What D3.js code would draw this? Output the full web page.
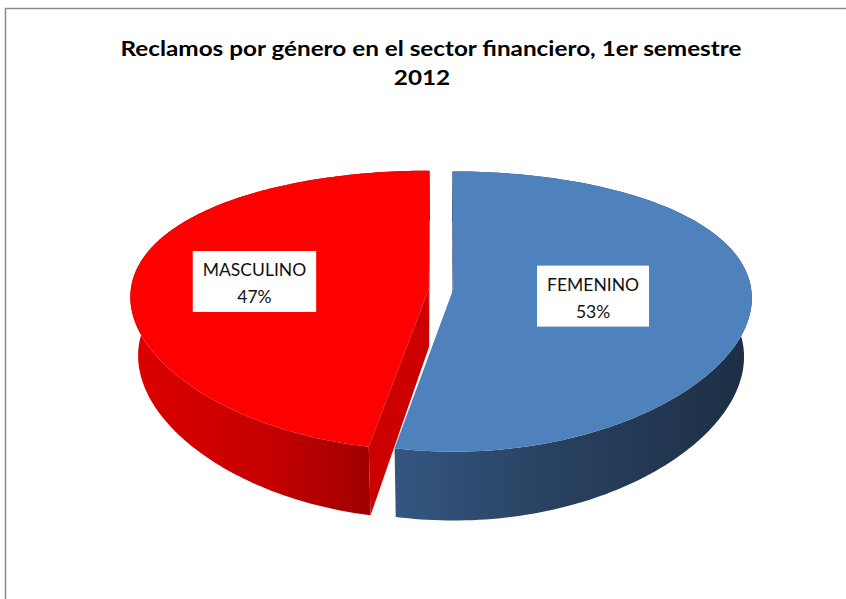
<!DOCTYPE html>
<html>
<head>
<meta charset="utf-8">
<script src="https://cdn.jsdelivr.net/npm/d3@7/dist/d3.min.js"></script>
<style>
  html, body { margin: 0; padding: 0; background: #fff; }
  svg { display: block; }
</style>
</head>
<body>
<div id="chart"></div>
<script>
const WIDTH = 846;
const HEIGHT = 599;

// data
const categories = ["FEMENINO", "MASCULINO"];
const values = [53, 47];
const pctLabels = ["53%", "47%"];
const titleLines = ["Reclamos por género en el sector financiero, 1er semestre", "2012"];

const TOP_COLORS = ["#4f81bd", "#ff0000"];
const CUT_COLORS = ["#1f3350", "#cc0000"];
const WALL_STOPS = [
  [["0%", "#33557e"], ["45%", "#28405f"], ["100%", "#1d2e45"]],
  [["0%", "#dc0000"], ["55%", "#c40000"], ["100%", "#9c0000"]]
];

// pseudo 3D projection constants
const CX = 441, CY = 289;
const RX = 298, RY = 136.5;
const K = 0.157;       // perspective in y (front bigger)
const KX = 0.06;       // perspective in x
const DEPTH = 58;      // thickness of the pie
const SHRINK = 0.025;  // bottom rim slightly smaller
const EXPLODE = 0.041;
const LABEL_R = [0.47, 0.59];
const TITLE_WIDTH = 621;

function proj(u, v, w) {
  const s = 1 / (1 - K * v);
  const sx = (1 - SHRINK * w) / (1 - KX * v);
  return [CX + RX * u * sx, CY + RY * v * s + DEPTH * w * s];
}

document.addEventListener('DOMContentLoaded', function() {
  const svg = d3.select("#chart")
    .append("svg")
    .attr("width", WIDTH)
    .attr("height", HEIGHT);

  // chart area border
  svg.append("rect")
    .attr("x", 5.5).attr("y", 8.5)
    .attr("width", WIDTH + 20).attr("height", HEIGHT + 20)
    .attr("fill", "none")
    .attr("stroke", "#8a8a8a")
    .attr("stroke-width", 1.5);

  const defs = svg.append("defs");
  WALL_STOPS.forEach((stops, i) => {
    const g = defs.append("linearGradient")
      .attr("id", "wall" + i)
      .attr("gradientUnits", "userSpaceOnUse")
      .attr("x1", i === 0 ? 405 : 135).attr("x2", i === 0 ? 755 : 380)
      .attr("y1", 0).attr("y2", 0);
    stops.forEach(s => g.append("stop").attr("offset", s[0]).attr("stop-color", s[1]));
  });

  const pie = d3.pie().sort(null).value(d => d)(values);
  const line = d3.line();

  const slices = pie.map((p, i) => {
    const mid = (p.startAngle + p.endAngle) / 2;
    return {
      i: i,
      a0: p.startAngle,
      a1: p.endAngle,
      mid: mid,
      ou: EXPLODE * Math.sin(mid),
      ov: -EXPLODE * Math.cos(mid)
    };
  });

  function rim(s, a, w) {
    return proj(s.ou + Math.sin(a), s.ov - Math.cos(a), w);
  }
  function centre(s, w) {
    return proj(s.ou, s.ov, w);
  }
  function area(pts) {
    let a = 0;
    for (let j = 0; j < pts.length; j++) {
      const p = pts[j], q = pts[(j + 1) % pts.length];
      a += p[0] * q[1] - q[0] * p[1];
    }
    return a;
  }
  function arcPts(s, w, from, to) {
    const n = 160, pts = [];
    for (let j = 0; j <= n; j++) pts.push(rim(s, from + (to - from) * j / n, w));
    return pts;
  }

  const g = svg.append("g");

  // cut faces (only the ones turned to the viewer)
  slices.forEach(s => {
    const faces = [
      [centre(s, 0), rim(s, s.a0, 0), rim(s, s.a0, 1), centre(s, 1)],
      [centre(s, 0), centre(s, 1), rim(s, s.a1, 1), rim(s, s.a1, 0)]
    ];
    faces.forEach(f => {
      if (area(f) < 0) {
        g.append("path")
          .attr("d", line(f) + "Z")
          .attr("fill", CUT_COLORS[s.i]);
      }
    });
  });

  // outer walls
  slices.forEach(s => {
    const pts = arcPts(s, 0, s.a0, s.a1).concat(arcPts(s, 1, s.a1, s.a0));
    g.append("path")
      .attr("d", line(pts) + "Z")
      .attr("fill", "url(#wall" + s.i + ")");
  });

  // top faces
  slices.forEach(s => {
    const pts = [centre(s, 0)].concat(arcPts(s, 0, s.a0, s.a1));
    g.append("path")
      .attr("d", line(pts) + "Z")
      .attr("fill", TOP_COLORS[s.i]);
  });

  // data labels
  slices.forEach(s => {
    const r = LABEL_R[s.i];
    const c = proj(s.ou + r * Math.sin(s.mid), s.ov - r * Math.cos(s.mid), 0);
    const lg = svg.append("g").attr("transform", "translate(" + c[0] + "," + c[1] + ")");
    const box = lg.append("rect").attr("fill", "#fff");
    const t1 = lg.append("text")
      .attr("text-anchor", "middle")
      .attr("y", -5)
      .style("font-family", "Lato, 'Open Sans', sans-serif")
      .style("font-size", "17.5px")
      .style("fill", "#111")
      .text(categories[s.i]);
    const t2 = lg.append("text")
      .attr("text-anchor", "middle")
      .attr("y", 22)
      .style("font-family", "Lato, 'Open Sans', sans-serif")
      .style("font-size", "17.5px")
      .style("fill", "#111")
      .text(pctLabels[s.i]);
    const w = Math.max(t1.node().getComputedTextLength(), t2.node().getComputedTextLength());
    box.attr("x", -w / 2 - 10).attr("y", -30).attr("width", w + 20).attr("height", 61);
  });

  // title, stretched to the width it has in the picture
  const title = svg.append("g")
    .style("font-family", "Lato, 'Open Sans', sans-serif")
    .style("font-weight", "bold")
    .style("font-size", "21px")
    .style("fill", "#000");
  const l1 = title.append("text")
    .attr("x", 431).attr("y", 56)
    .attr("text-anchor", "middle")
    .text(titleLines[0]);
  const l2 = title.append("text")
    .attr("x", 422).attr("y", 85)
    .attr("text-anchor", "middle")
    .text(titleLines[1]);
  const ratio = TITLE_WIDTH / l1.node().getComputedTextLength();
  l1.attr("textLength", TITLE_WIDTH).attr("lengthAdjust", "spacingAndGlyphs");
  l2.attr("textLength", l2.node().getComputedTextLength() * ratio).attr("lengthAdjust", "spacingAndGlyphs");
});
</script>
</body>
</html>
